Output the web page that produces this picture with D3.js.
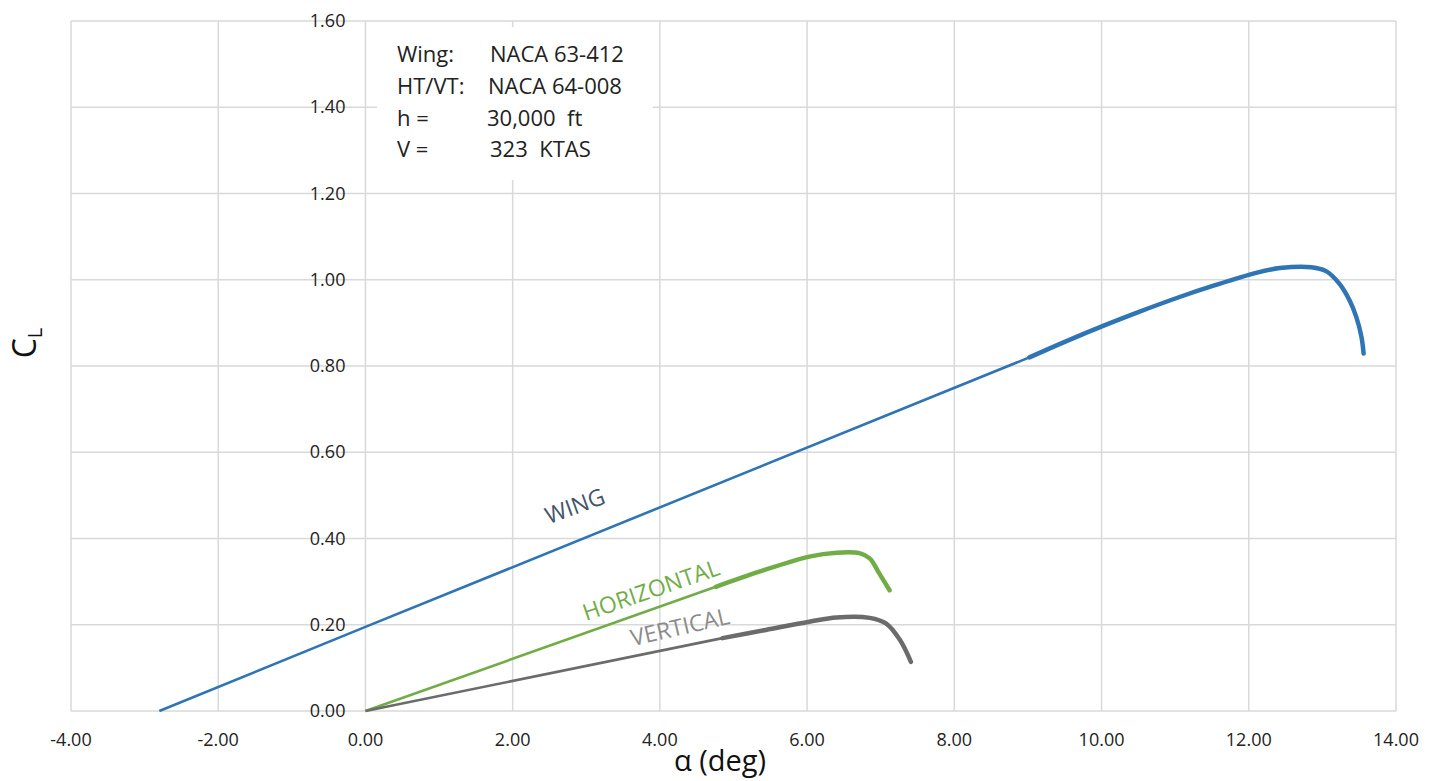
<!DOCTYPE html>
<html>
<head>
<meta charset="utf-8">
<script src="https://cdn.jsdelivr.net/npm/d3@7"></script>
<style>
  html, body { margin: 0; padding: 0; background: #fff; }
  svg { display: block; font-family: "Open Sans", "Liberation Sans", sans-serif; }
  .pre { white-space: pre; }
</style>
</head>
<body>
<div id="chart"></div>
<script>
// --- data ---
const xTicks = [-4, -2, 0, 2, 4, 6, 8, 10, 12, 14];
const yTicks = [0, 0.2, 0.4, 0.6, 0.8, 1.0, 1.2, 1.4, 1.6];

// wing: linear part, then the stall part
const wingLinAlpha = [-2.8, 0, 9.02];
const wingLinCL = [0, 0.195, 0.82];
const wingStallAlpha = [9.02, 9.5, 10.08, 10.5, 11.06, 11.5, 12.1, 12.42, 12.85, 13.05, 13.23, 13.37, 13.46, 13.53, 13.56];
const wingStallCL = [0.82, 0.856, 0.897, 0.925, 0.96, 0.985, 1.016, 1.027, 1.029, 1.02, 0.991, 0.952, 0.914, 0.868, 0.829];

// horizontal tail
const htLinAlpha = [0, 4.76];
const htLinCL = [0, 0.288];
const htStallAlpha = [4.76, 5.35, 6.03, 6.4, 6.71, 6.85, 6.98, 7.12];
const htStallCL = [0.288, 0.323, 0.358, 0.367, 0.366, 0.354, 0.319, 0.28];

// vertical tail
const vtLinAlpha = [0, 4.85];
const vtLinCL = [0, 0.169];
const vtStallAlpha = [4.85, 5.44, 6.03, 6.4, 6.85, 7.07, 7.26, 7.41];
const vtStallCL = [0.169, 0.188, 0.207, 0.217, 0.216, 0.203, 0.165, 0.114];

const infoLabels = ["Wing:", "HT/VT:", "h =", "V ="];
const infoValues = ["NACA 63-412", "NACA 64-008", "30,000  ft", "323  KTAS"];

// --- layout ---
const W = 1433, H = 781;
const plot = { left: 71, right: 1396, top: 21, bottom: 711 };

const svg = d3.select("#chart").append("svg")
  .attr("width", W).attr("height", H);
svg.append("rect").attr("width", W).attr("height", H).attr("fill", "#fff");

const x = d3.scaleLinear().domain([-4, 14]).range([plot.left, plot.right]);
const y = d3.scaleLinear().domain([0, 1.6]).range([plot.bottom, plot.top]);

// grid
const grid = svg.append("g").attr("stroke", "#d9d9d9").attr("stroke-width", 1.5);
grid.selectAll("line.v").data(xTicks).enter().append("line")
  .attr("x1", d => x(d)).attr("x2", d => x(d))
  .attr("y1", plot.top).attr("y2", plot.bottom);
grid.selectAll("line.h").data(yTicks).enter().append("line")
  .attr("x1", plot.left).attr("x2", plot.right)
  .attr("y1", d => y(d)).attr("y2", d => y(d));

// x tick labels
svg.append("g").selectAll("text").data(xTicks).enter().append("text")
  .attr("x", d => x(d)).attr("y", 746)
  .attr("text-anchor", "middle")
  .attr("font-size", 18).attr("fill", "#222")
  .text(d => d.toFixed(2));

// y tick labels (axis sits at alpha = 0)
svg.append("g").selectAll("text").data(yTicks).enter().append("text")
  .attr("x", x(0) - 20).attr("y", d => y(d) + 6)
  .attr("text-anchor", "end")
  .attr("font-size", 18).attr("fill", "#222")
  .text(d => d.toFixed(2));

// axis titles
svg.append("text")
  .attr("x", 720).attr("y", 771)
  .attr("text-anchor", "middle")
  .attr("font-size", 29).attr("fill", "#111")
  .text("α (deg)");

const yt = svg.append("text")
  .attr("transform", "translate(36,343) rotate(-90)")
  .attr("text-anchor", "middle")
  .attr("font-size", 32).attr("fill", "#111");
yt.append("tspan").text("C");
yt.append("tspan").attr("font-size", 20).attr("dy", 6).text("L");

// curves
const zip = (a, b) => a.map((v, i) => [v, b[i]]);
const linLine = d3.line().x(d => x(d[0])).y(d => y(d[1]));
const stallLine = d3.line().x(d => x(d[0])).y(d => y(d[1])).curve(d3.curveCatmullRom.alpha(0.5));

const series = [
  { lin: zip(wingLinAlpha, wingLinCL), stall: zip(wingStallAlpha, wingStallCL), color: "#2f75b5" },
  { lin: zip(htLinAlpha, htLinCL), stall: zip(htStallAlpha, htStallCL), color: "#70ad47" },
  { lin: zip(vtLinAlpha, vtLinCL), stall: zip(vtStallAlpha, vtStallCL), color: "#6b6b6b" }
];

series.forEach(s => {
  svg.append("path").attr("d", linLine(s.lin))
    .attr("fill", "none").attr("stroke", s.color).attr("stroke-width", 2.6);
  svg.append("path").attr("d", stallLine(s.stall))
    .attr("fill", "none").attr("stroke", s.color).attr("stroke-width", 4.5)
    .attr("stroke-linecap", "round").attr("stroke-linejoin", "round");
});

// curve labels
const curveLabels = [
  { text: "WING", cx: 575, cy: 506, angle: -20, color: "#44546a" },
  { text: "HORIZONTAL", cx: 651, cy: 590, angle: -19, color: "#70ad47" },
  { text: "VERTICAL", cx: 680, cy: 627, angle: -13, color: "#8c8c8c" }
];
svg.append("g").selectAll("text").data(curveLabels).enter().append("text")
  .attr("transform", d => `translate(${d.cx},${d.cy}) rotate(${d.angle})`)
  .attr("text-anchor", "middle").attr("dy", "0.35em")
  .attr("font-size", 23).attr("fill", d => d.color)
  .text(d => d.text);

// info box
svg.append("rect")
  .attr("x", 377).attr("y", 27).attr("width", 276).attr("height", 153)
  .attr("fill", "#fff");
const info = svg.append("g").attr("font-size", 22).attr("fill", "#222");
infoLabels.forEach((t, i) => {
  const by = 62 + i * 31.8;
  info.append("text").attr("x", 397).attr("y", by).text(t);
  info.append("text").attr("class", "pre")
    .attr("x", [490, 488, 487, 490][i]).attr("y", by).text(infoValues[i]);
});
</script>
</body>
</html>
